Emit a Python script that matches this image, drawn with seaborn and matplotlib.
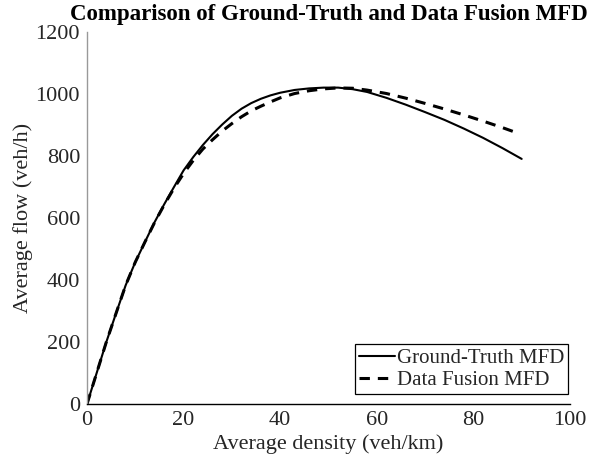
import matplotlib
matplotlib.use("Agg")
import matplotlib.pyplot as plt
import seaborn as sns
import pandas as pd

# Ground-truth MFD (density in veh/km, flow in veh/h)
gt_density = [0, 2, 4, 6, 8, 10, 12, 14, 16, 18, 20, 22, 24, 26, 28, 30, 32,
              34, 36, 38, 40, 43, 46, 49, 52, 55, 58, 62, 66, 70, 74, 78, 82,
              86, 90]
gt_flow = [0, 100, 200, 292, 383, 458, 523, 587, 645, 700, 754, 797, 836, 871,
           902, 930, 953, 971, 985, 996, 1004.5, 1013.5, 1018.5, 1021, 1021,
           1016, 1007, 988, 966, 942, 917, 889, 859, 826, 791]

# Data fusion MFD
df_density = [0, 2, 4, 6, 8, 10, 12, 14, 16, 18, 20, 22, 24, 26, 28, 30, 32,
              34, 36, 38, 40, 43, 46, 49, 52, 55, 58, 62, 66, 70, 74, 78, 82,
              86, 88.5]
df_flow = [0, 100, 200, 292, 383, 458, 523, 586, 643, 696, 744, 786, 823, 853,
           881, 905, 927, 946, 961, 975, 988, 1002, 1011, 1017, 1020, 1019,
           1013, 1002, 987, 970, 952, 933, 913, 892, 878]

x_ticks = [0, 20, 40, 60, 80, 100]
y_ticks = [0, 200, 400, 600, 800, 1000, 1200]

sns.set_theme(style="white")
plt.rcParams["font.family"] = ["Liberation Serif", "DejaVu Serif"]

gt = pd.DataFrame({"density": gt_density, "flow": gt_flow})
fu = pd.DataFrame({"density": df_density, "flow": df_flow})

fig = plt.figure(figsize=(5.89, 4.66), dpi=100)
ax = fig.add_axes([0.1477, 0.1330, 0.8200, 0.7980])

sns.lineplot(data=gt, x="density", y="flow", ax=ax, color="black",
             linewidth=1.5, label="Ground-Truth MFD", sort=False)
sns.lineplot(data=fu, x="density", y="flow", ax=ax, color="black",
             linewidth=2.2, label="Data Fusion MFD", sort=False)
ax.lines[1].set_dashes((3.4, 2.6))

ax.set_xlim(0, 100)
ax.set_ylim(0, 1200)
ax.set_xticks(x_ticks)
ax.set_yticks(y_ticks)
ax.tick_params(axis="both", direction="in", length=4, width=0.8,
               labelsize=16, colors="#262626", pad=5)
ax.tick_params(axis="y", color="#999999")
ax.tick_params(axis="x", color="black")

for side in ("top", "right"):
    ax.spines[side].set_visible(False)
ax.spines["left"].set_color("#999999")
ax.spines["left"].set_linewidth(1.0)
ax.spines["bottom"].set_color("black")
ax.spines["bottom"].set_linewidth(1.0)

ax.set_xlabel("Average density (veh/km)", fontsize=16, color="#262626", labelpad=3)
ax.set_ylabel("Average flow (veh/h)", fontsize=16, color="#262626", labelpad=2)
ax.set_title("Comparison of Ground-Truth and Data Fusion MFD", fontsize=16.5,
             fontweight="bold", color="black", pad=8.5)

leg = ax.legend(loc="lower right", bbox_to_anchor=(0.996, 0.027),
                borderaxespad=0, fontsize=15, frameon=True, fancybox=False,
                edgecolor="black", framealpha=1, handlelength=1.75,
                handletextpad=0.05, borderpad=0.2, labelspacing=0.1)
leg.get_frame().set_linewidth(0.9)

fig.savefig("out.png", dpi=100)
